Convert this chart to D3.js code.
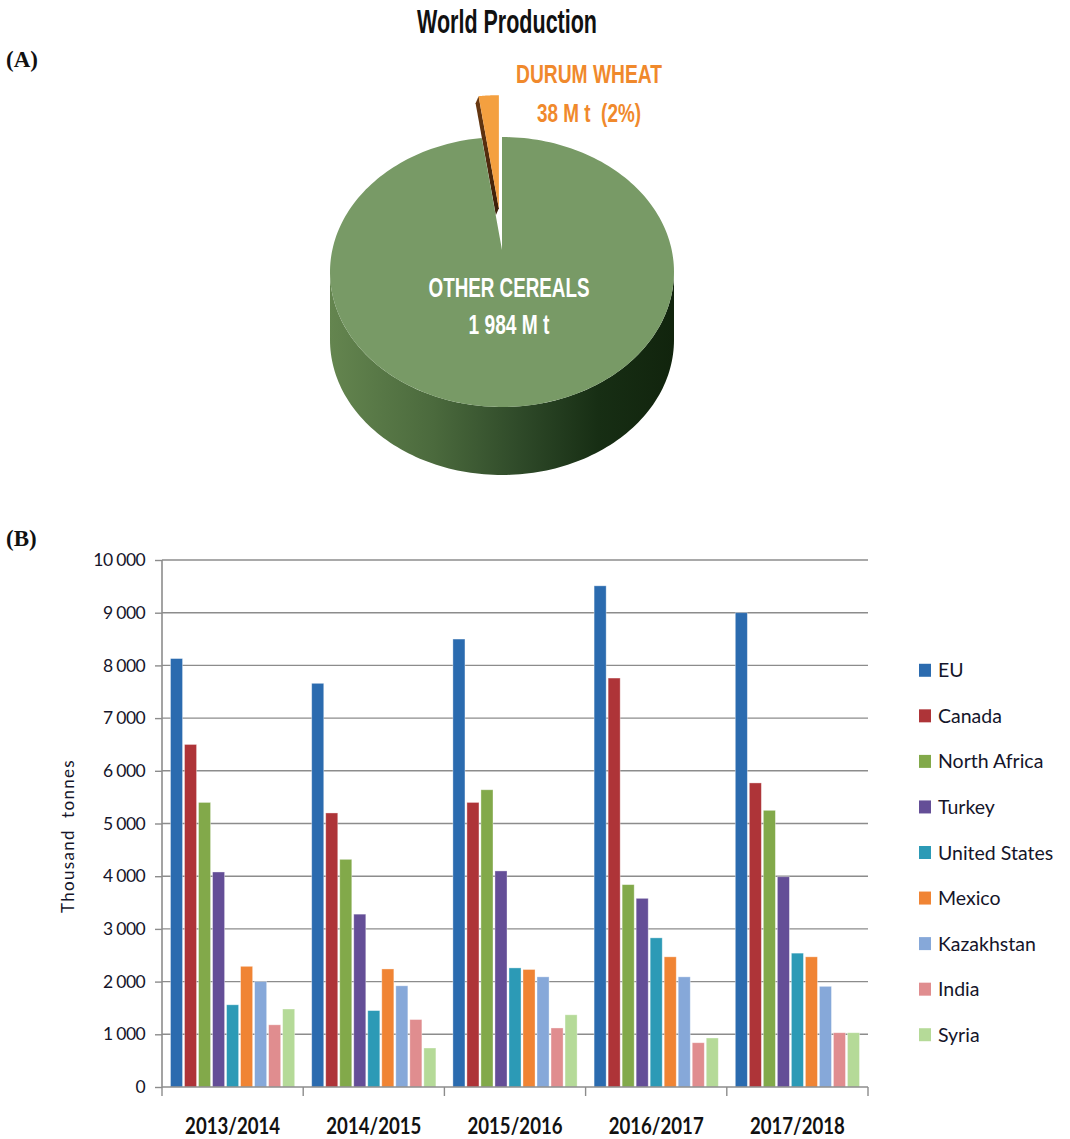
<!DOCTYPE html>
<html>
<head>
<meta charset="utf-8">
<script src="https://cdn.jsdelivr.net/npm/d3@7"></script>
<style>
  html, body { margin: 0; padding: 0; background: #fff; }
  svg { display: block; }
</style>
</head>
<body>
<svg id="chart" width="1070" height="1139"></svg>
<script>
// ---------- DATA ----------
const pieLabels = ["OTHER CEREALS", "DURUM WHEAT"];
const pieValues = [1984, 38];
const pieValueText = ["1 984 M t", "38 M t  (2%)"];

const categories = ["2013/2014", "2014/2015", "2015/2016", "2016/2017", "2017/2018"];
const countries = ["EU", "Canada", "North Africa", "Turkey", "United States", "Mexico", "Kazakhstan", "India", "Syria"];
const EU           = [8130, 7660, 8500, 9510, 9000];
const Canada       = [6500, 5200, 5400, 7760, 5770];
const NorthAfrica  = [5400, 4320, 5640, 3840, 5250];
const Turkey       = [4080, 3280, 4100, 3580, 3990];
const UnitedStates = [1560, 1450, 2260, 2830, 2540];
const Mexico       = [2290, 2240, 2230, 2470, 2470];
const Kazakhstan   = [2000, 1920, 2090, 2090, 1910];
const India        = [1180, 1280, 1120, 840, 1030];
const Syria        = [1480, 740, 1370, 930, 1030];
const yTicks = [0, 1000, 2000, 3000, 4000, 5000, 6000, 7000, 8000, 9000, 10000];

const seriesValues = [EU, Canada, NorthAfrica, Turkey, UnitedStates, Mexico, Kazakhstan, India, Syria];
const colors = ["#2B6BAF", "#AE3438", "#82A94A", "#644E97", "#2C9AB6", "#F08434", "#86A8D9", "#E08D8F", "#B5DA98"];

(function () {
const svg = d3.select("#chart");
const NARROW = "'Liberation Sans Narrow', 'Arial Narrow', 'Liberation Sans', Arial, sans-serif";

// ---------- PANEL LABELS ----------
svg.append("text").attr("x", 6).attr("y", 67).text("(A)")
  .attr("font-family", "'Liberation Serif', 'Times New Roman', serif")
  .attr("font-weight", "bold").attr("font-size", 23).attr("fill", "#111");
svg.append("text").attr("x", 6).attr("y", 546).text("(B)")
  .attr("font-family", "'Liberation Serif', 'Times New Roman', serif")
  .attr("font-weight", "bold").attr("font-size", 23).attr("fill", "#111");

// ---------- PIE (3D look) ----------
svg.append("text").attr("x", 507).attr("y", 33).attr("text-anchor", "middle")
  .text("World Production")
  .attr("font-family", NARROW).attr("font-weight", "bold").attr("font-size", 33)
  .attr("textLength", 180).attr("lengthAdjust", "spacingAndGlyphs").attr("fill", "#111");

const defs = svg.append("defs");
const sideGrad = defs.append("linearGradient").attr("id", "sideGrad")
  .attr("x1", "0%").attr("x2", "100%").attr("y1", "0%").attr("y2", "0%");
[["0%", "#64854f"], ["30%", "#4b6a3d"], ["55%", "#2f4a29"], ["78%", "#172e14"], ["100%", "#11240d"]]
  .forEach(s => sideGrad.append("stop").attr("offset", s[0]).attr("stop-color", s[1]));
const brownGrad = defs.append("linearGradient").attr("id", "brownGrad")
  .attr("x1", "0%").attr("x2", "0%").attr("y1", "0%").attr("y2", "100%");
[["0%", "#6b3a12"], ["100%", "#3a1e08"]]
  .forEach(s => brownGrad.append("stop").attr("offset", s[0]).attr("stop-color", s[1]));

const cx = 502, cy = 272, rx = 172, ry = 135, depth = 68, apexLift = 22;
const pie = d3.pie().sort(null).value(d => d)(pieValues);
const proj = (a, ox = 0, oy = 0) => [cx + ox + rx * Math.sin(a), cy + oy - ry * Math.cos(a)];
function arcPoints(a0, a1, ox = 0, oy = 0, n = 120) {
  const pts = [];
  for (let i = 0; i <= n; i++) pts.push(proj(a0 + (a1 - a0) * i / n, ox, oy));
  return pts;
}
const line = d3.line();

// durum wheat slice (exploded)
const sl = pie[1];
const mid = (sl.startAngle + sl.endAngle) / 2;
const ex = 0.31;
const ox = rx * ex * Math.sin(mid), oy = -ry * ex * Math.cos(mid);
const apexS = [cx + ox, cy + oy - apexLift];
const rimL = proj(sl.startAngle, ox, oy);
const sOff = [-3, 7];
svg.append("path").attr("d", line([apexS, rimL, [rimL[0] + sOff[0], rimL[1] + sOff[1]], [apexS[0] + sOff[0], apexS[1] + sOff[1]]]) + "Z")
  .attr("fill", "url(#brownGrad)");
svg.append("path").attr("d", line([apexS].concat(arcPoints(sl.startAngle, sl.endAngle, ox, oy, 20))) + "Z")
  .attr("fill", "#F4A040");

// other cereals main body
const oc = pie[0];
const sideTop = arcPoints(Math.PI / 2, 3 * Math.PI / 2);
const sideBot = sideTop.map(p => [p[0], p[1] + depth]).reverse();
svg.append("path").attr("d", line(sideTop.concat(sideBot)) + "Z").attr("fill", "url(#sideGrad)");
const apex = [cx, cy - apexLift];
svg.append("path").attr("d", line([apex].concat(arcPoints(oc.startAngle, oc.endAngle, 0, 0, 240))) + "Z")
  .attr("fill", "#789A66");

// pie labels
svg.append("text").attr("x", 509).attr("y", 297).attr("text-anchor", "middle").text(pieLabels[0])
  .attr("font-family", NARROW).attr("font-weight", "bold").attr("font-size", 27)
  .attr("textLength", 161).attr("lengthAdjust", "spacingAndGlyphs").attr("fill", "#fff");
svg.append("text").attr("x", 509).attr("y", 334).attr("text-anchor", "middle").text(pieValueText[0])
  .attr("font-family", NARROW).attr("font-weight", "bold").attr("font-size", 27)
  .attr("textLength", 81).attr("lengthAdjust", "spacingAndGlyphs").attr("fill", "#fff");
svg.append("text").attr("x", 589).attr("y", 83).attr("text-anchor", "middle").text(pieLabels[1])
  .attr("font-family", NARROW).attr("font-weight", "bold").attr("font-size", 25)
  .attr("textLength", 146).attr("lengthAdjust", "spacingAndGlyphs").attr("fill", "#F0892C");
svg.append("text").attr("x", 589).attr("y", 122).attr("text-anchor", "middle").text(pieValueText[1])
  .style("white-space", "pre").attr("xml:space", "preserve")
  .attr("font-family", NARROW).attr("font-weight", "bold").attr("font-size", 25)
  .attr("textLength", 104).attr("lengthAdjust", "spacingAndGlyphs").attr("fill", "#F0892C");

// ---------- BAR CHART ----------
const pL = 162, pR = 868, pT = 560, pB = 1087;
const x0 = d3.scaleBand().domain(categories).range([pL, pR]).padding(0);
const x1 = d3.scaleBand().domain(countries).range([8.5, x0.bandwidth() - 8.5]).paddingInner(0.14);
const y = d3.scaleLinear().domain([0, 10000]).range([pB, pT]);
const color = d3.scaleOrdinal().domain(countries).range(colors);
const fmt = d => d3.format(",")(d).replace(/,/g, " ");

// gridlines
svg.append("g").selectAll("line").data(yTicks.filter(d => d > 0)).join("line")
  .attr("x1", pL).attr("x2", pR).attr("y1", d => y(d)).attr("y2", d => y(d))
  .attr("stroke", "#8c8c8c").attr("stroke-width", 1.4);

// y axis
const yAxis = svg.append("g").attr("transform", `translate(${pL},0)`)
  .call(d3.axisLeft(y).tickValues(yTicks).tickFormat(fmt).tickSize(7).tickPadding(10));
yAxis.select(".domain").remove();
yAxis.selectAll(".tick line").attr("stroke", "#8c8c8c").attr("stroke-width", 1.4);
yAxis.selectAll(".tick text").attr("font-family", "Lato, 'Open Sans', sans-serif")
  .attr("font-size", 17.5).attr("fill", "#15152a").style("letter-spacing", "-0.6px");
svg.append("line").attr("x1", pL).attr("x2", pL).attr("y1", pT).attr("y2", pB + 0.5)
  .attr("stroke", "#8c8c8c").attr("stroke-width", 1.6);

// y title
svg.append("text").attr("transform", `translate(74,836) rotate(-90)`).attr("text-anchor", "middle")
  .text("Thousand  tonnes").style("white-space", "pre").attr("xml:space", "preserve")
  .attr("font-family", "Lato, 'Open Sans', sans-serif")
  .attr("font-size", 17).attr("fill", "#15152a").style("letter-spacing", "1.3px");

// bars
const groups = svg.append("g").selectAll("g").data(categories).join("g")
  .attr("transform", d => `translate(${x0(d)},0)`);
groups.selectAll("rect")
  .data((c, ci) => countries.map((k, ki) => ({ k, v: seriesValues[ki][ci] })))
  .join("rect")
  .attr("x", d => x1(d.k)).attr("width", x1.bandwidth())
  .attr("y", d => y(d.v)).attr("height", d => y(0) - y(d.v))
  .attr("fill", d => color(d.k))
  .attr("stroke", "rgba(255,255,255,0.45)").attr("stroke-width", 0.8);

// x axis line and ticks
svg.append("line").attr("x1", pL).attr("x2", pR).attr("y1", pB).attr("y2", pB)
  .attr("stroke", "#8c8c8c").attr("stroke-width", 1.6);
const bounds = categories.map(c => x0(c)).concat([pR]);
svg.append("g").selectAll("line").data(bounds).join("line")
  .attr("x1", d => d).attr("x2", d => d).attr("y1", pB).attr("y2", pB + 9)
  .attr("stroke", "#8c8c8c").attr("stroke-width", 1.4);
svg.append("g").selectAll("text").data(categories).join("text")
  .attr("x", d => x0(d) + x0.bandwidth() / 2).attr("y", 1134).attr("text-anchor", "middle")
  .text(d => d).attr("font-family", "Lato, 'Open Sans', sans-serif").attr("font-weight", "bold")
  .attr("font-size", 23).attr("textLength", 95).attr("lengthAdjust", "spacingAndGlyphs").attr("fill", "#111");

// legend
const ly = d3.scaleBand().domain(countries).range([647.5, 1057.5]);
const leg = svg.append("g").selectAll("g").data(countries).join("g")
  .attr("transform", d => `translate(919,${ly(d) + ly.bandwidth() / 2})`);
leg.append("rect").attr("x", 0).attr("y", -6.5).attr("width", 12).attr("height", 13).attr("fill", d => color(d));
leg.append("text").attr("x", 19).attr("y", 0).attr("dy", "0.36em").text(d => d)
  .attr("font-family", "Lato, 'Open Sans', sans-serif").attr("font-size", 19.5).attr("fill", "#15152a");
})();
</script>
</body>
</html>
